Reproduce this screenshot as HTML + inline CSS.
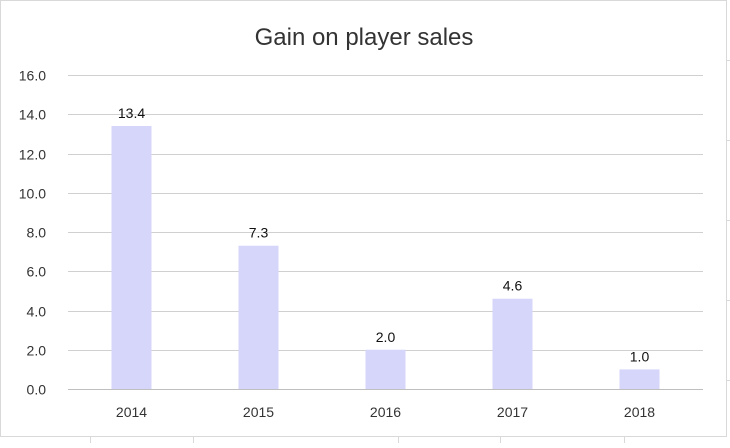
<!DOCTYPE html>
<html><head><meta charset="utf-8"><style>
html,body{margin:0;padding:0;background:#fff;}
body{width:730px;height:443px;overflow:hidden;font-family:"Liberation Sans",sans-serif;}
</style></head><body>
<svg width="730" height="443" viewBox="0 0 730 443" xmlns="http://www.w3.org/2000/svg" id="svg">
<rect x="0" y="0" width="730" height="443" fill="#fff"/>
<g stroke="#d9d9d9" stroke-width="1">
<line x1="90.5" y1="437" x2="90.5" y2="443"/><line x1="193.5" y1="437" x2="193.5" y2="443"/><line x1="398.5" y1="437" x2="398.5" y2="443"/><line x1="500.5" y1="437" x2="500.5" y2="443"/><line x1="624.5" y1="437" x2="624.5" y2="443"/>
<line x1="727" y1="60.5" x2="730" y2="60.5"/><line x1="727" y1="140.5" x2="730" y2="140.5"/><line x1="727" y1="220.5" x2="730" y2="220.5"/><line x1="727" y1="300.5" x2="730" y2="300.5"/><line x1="727" y1="380.5" x2="730" y2="380.5"/>
</g>
<rect x="0.5" y="0.5" width="726" height="436" fill="#fff" stroke="#d9d9d9"/>
<text x="364" y="45" text-anchor="middle" font-size="24" fill="#333">Gain on player sales</text>
<g id="grid"></g><g id="bars"></g>
</svg>
<script>
const categories = ["2014","2015","2016","2017","2018"];
const values = [13.4, 7.3, 2.0, 4.6, 1.0];
const yTicks = [0, 2, 4, 6, 8, 10, 12, 14, 16];
const ns = "http://www.w3.org/2000/svg";
const plotL = 68, plotR = 703, y0 = 389, yTop = 75, yMax = 16;
const yS = v => y0 - (y0 - yTop) * v / yMax;
const band = (plotR - plotL) / categories.length;
const xC = i => plotL + band * (i + 0.5);
const grid = document.getElementById('grid'), bars = document.getElementById('bars');
function mk(tag, attrs, parent, txt){const e=document.createElementNS(ns,tag);for(const k in attrs)e.setAttribute(k,attrs[k]);if(txt!==undefined)e.textContent=txt;parent.appendChild(e);return e;}
yTicks.forEach(t=>{
  const y = Math.round(yS(t)) + 0.5;
  const l = mk('line',{x1:plotL,x2:plotR,y1:y,y2:y,stroke:t===0?'#bfbfbf':'#d0d0d0','stroke-width':1},grid);
  
  
  const tx = mk('text',{x:46,y:y+5,'text-anchor':'end','font-size':14,fill:'#333'},grid,t.toFixed(1));
  
  
});
categories.forEach((c,i)=>{
  const v = values[i], x = xC(i), bw = 40;
  const r = mk('rect',{x:x-bw/2,y:yS(v),width:bw,height:y0-yS(v),fill:'#d6d6fa'},bars);
  
  
  const lb = mk('text',{x:x,y:yS(v)-8,'text-anchor':'middle','font-size':14,fill:'#111'},bars,v.toFixed(1));
  
  
  const xl = mk('text',{x:x,y:417,'text-anchor':'middle','font-size':14,fill:'#333'},bars,c);
  
  
});
</script>
</body></html>
